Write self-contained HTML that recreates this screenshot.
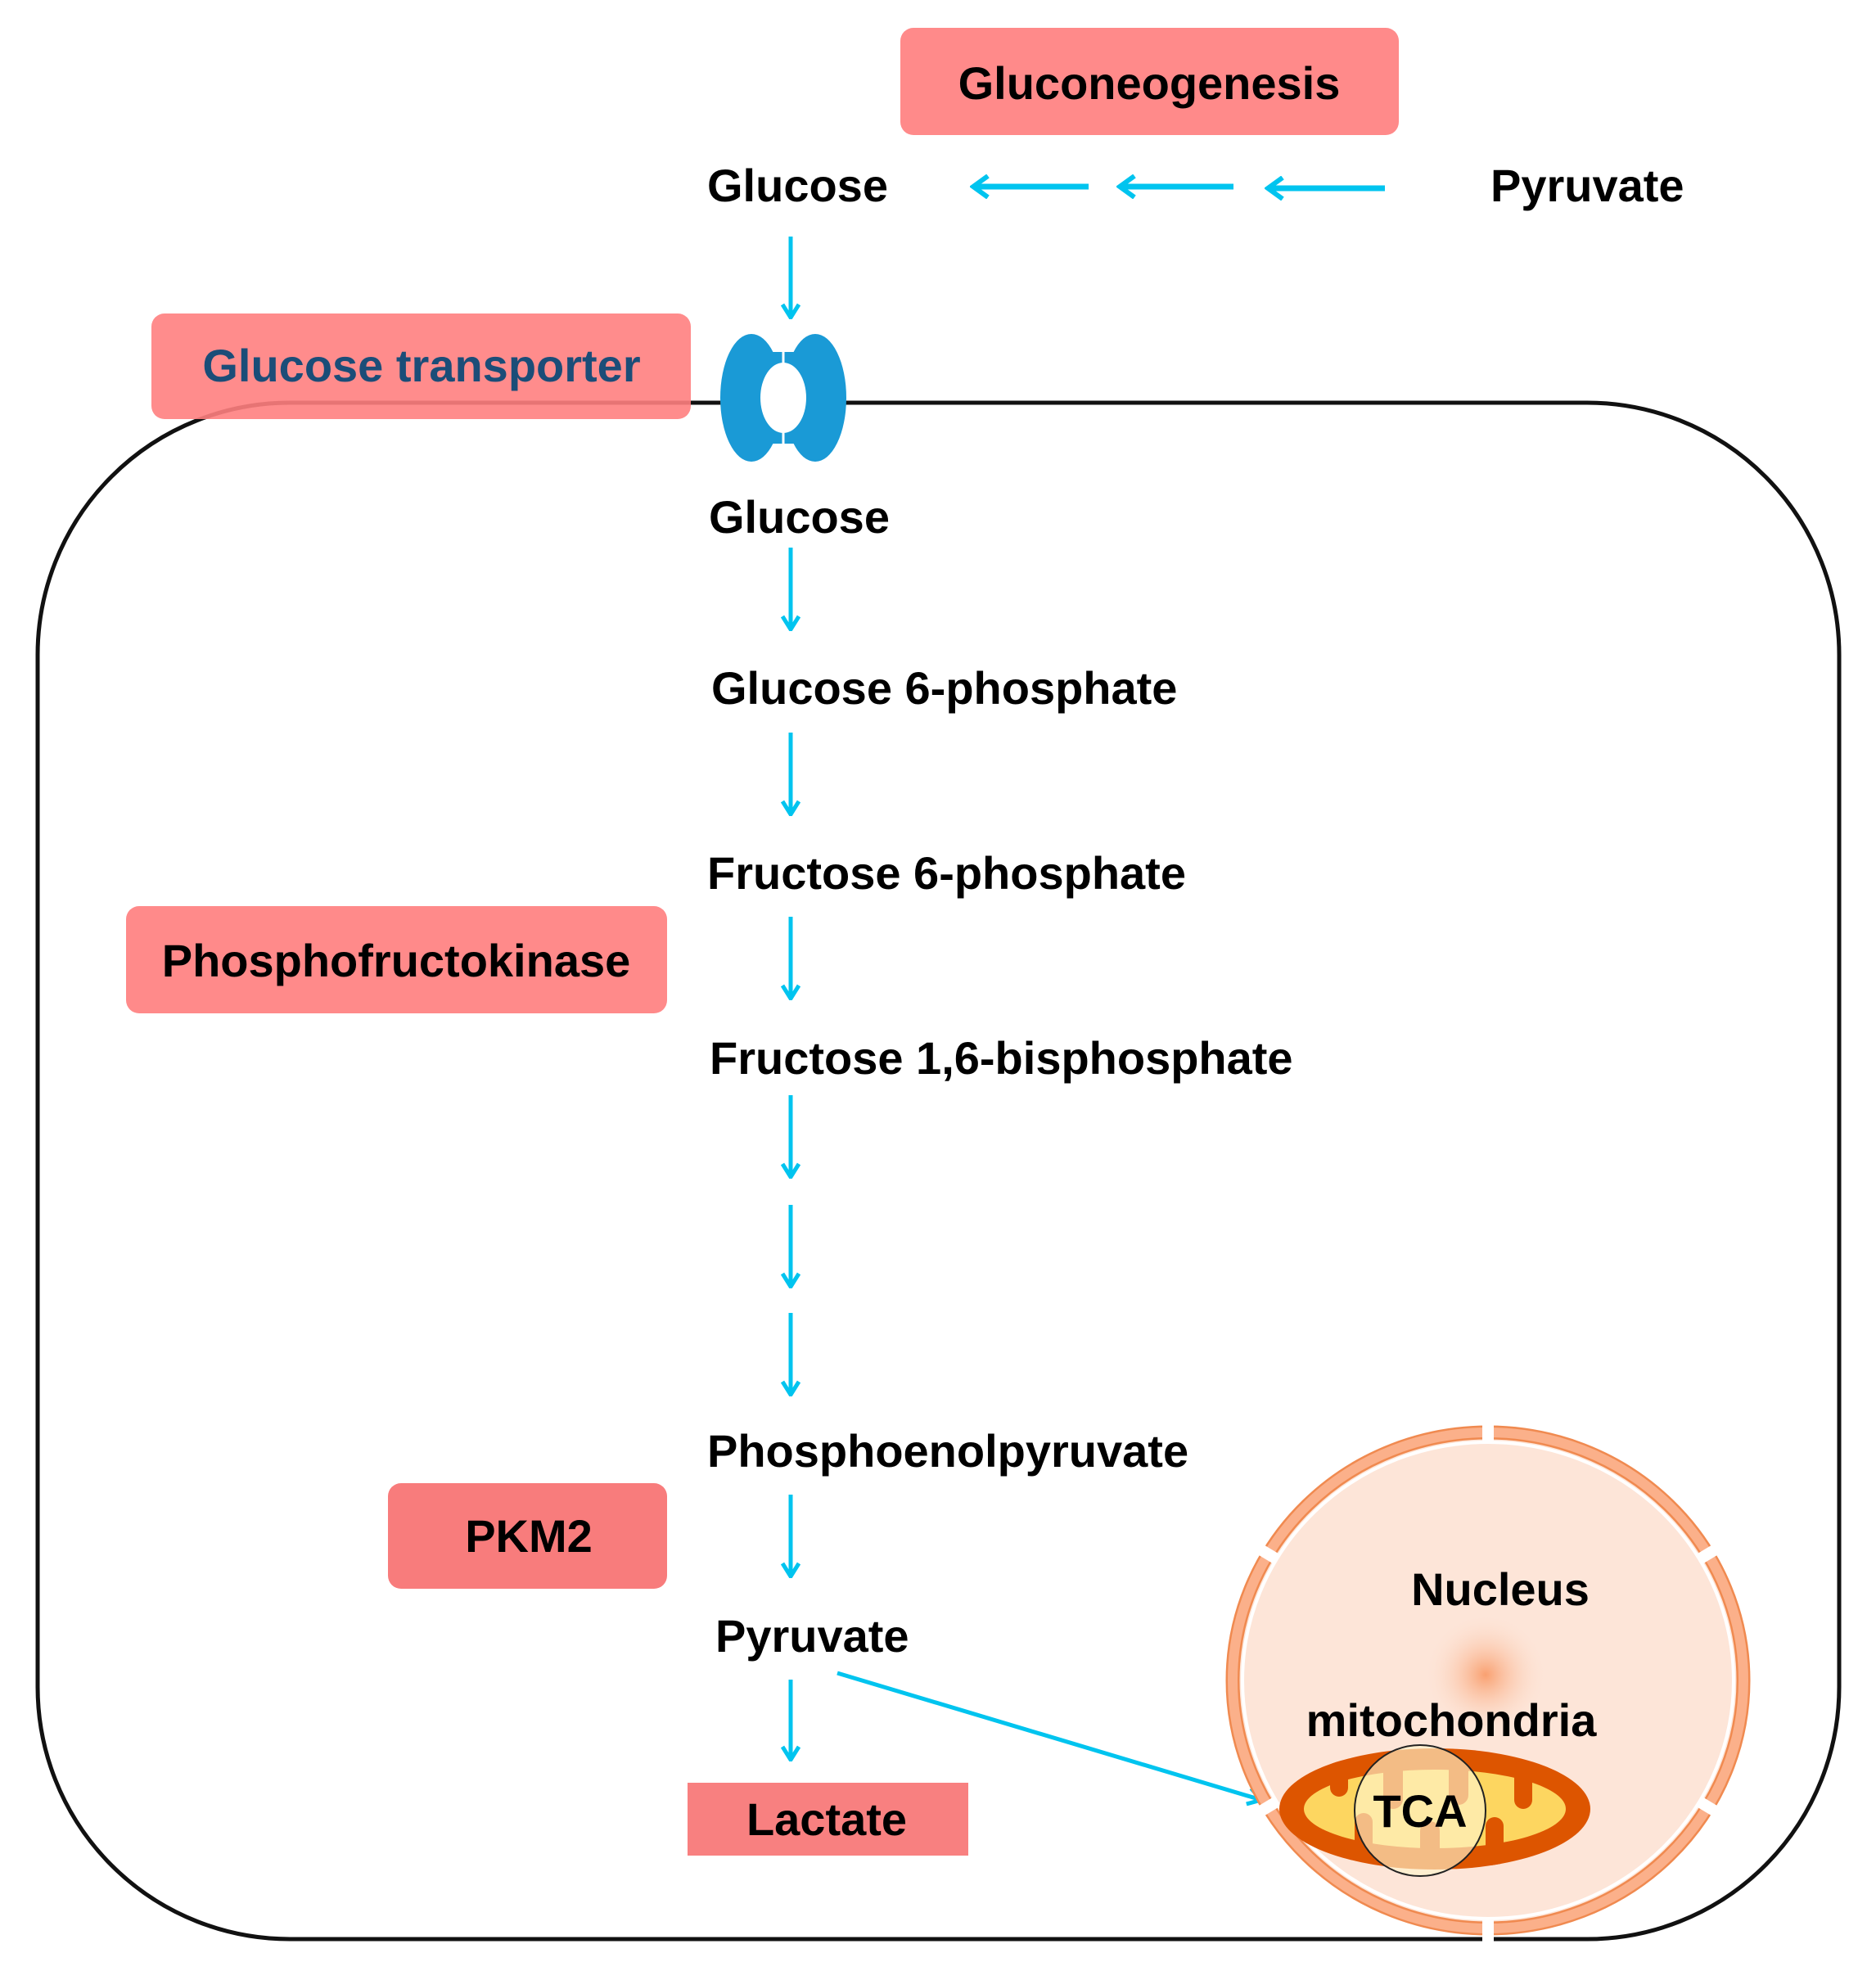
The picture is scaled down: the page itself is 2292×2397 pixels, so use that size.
<!DOCTYPE html>
<html><head><meta charset="utf-8"><style>html,body{margin:0;padding:0;background:#fff}svg{display:block}</style></head><body>
<svg width="2292" height="2397" viewBox="0 0 2292 2397" xmlns="http://www.w3.org/2000/svg" font-family="'Liberation Sans', sans-serif" font-weight="bold" font-size="56">
<defs>
<marker id="ah" markerWidth="20" markerHeight="24" refX="18" refY="12" orient="auto" markerUnits="userSpaceOnUse"><path d="M2,2 L18,12 L2,22" fill="none" stroke="#00c4ef" stroke-width="5"/></marker>
<marker id="ah2" markerWidth="24" markerHeight="30" refX="20" refY="15" orient="auto" markerUnits="userSpaceOnUse"><path d="M2,2 L20,15 L2,28" fill="none" stroke="#00c4ef" stroke-width="6"/></marker>
<radialGradient id="glow"><stop offset="0" stop-color="#f9a070"/><stop offset="1" stop-color="#fde5d8" stop-opacity="0"/></radialGradient>
<clipPath id="mc"><ellipse cx="1753" cy="2210" rx="190" ry="74"/></clipPath>
</defs>
<rect x="46" y="492" width="2201" height="1877" rx="308" ry="308" fill="none" stroke="#111" stroke-width="5"/>
<rect x="1100" y="34" width="609" height="131" rx="16" fill="#ff8a8a"/>
<text x="1404" y="121" text-anchor="middle">Gluconeogenesis</text>
<rect x="185" y="383" width="659" height="129" rx="16" fill="#ff8080" fill-opacity="0.9"/>
<text x="515" y="466" text-anchor="middle" fill="#1b4d78">Glucose transporter</text>
<rect x="154" y="1107" width="661" height="131" rx="16" fill="#ff8a8a"/>
<text x="484" y="1193" text-anchor="middle">Phosphofructokinase</text>
<rect x="474" y="1812" width="341" height="129" rx="16" fill="#f87c7c"/>
<text x="646" y="1896" text-anchor="middle">PKM2</text>
<rect x="840" y="2178" width="343" height="89" fill="#f88080"/>
<text x="1010" y="2242" text-anchor="middle">Lactate</text>
<ellipse cx="918" cy="486" rx="38" ry="78" fill="#1a9ad6"/>
<ellipse cx="996" cy="486" rx="38" ry="78" fill="#1a9ad6"/>
<rect x="918" y="430" width="78" height="112" fill="#1a9ad6"/>
<ellipse cx="957" cy="486" rx="28" ry="43" fill="#fff"/>
<line x1="957" y1="405" x2="957" y2="446" stroke="#fff" stroke-width="3"/>
<line x1="957" y1="526" x2="957" y2="568" stroke="#fff" stroke-width="3"/>
<text x="864" y="246">Glucose</text>
<text x="1821" y="246">Pyruvate</text>
<text x="866" y="651">Glucose</text>
<text x="869" y="860">Glucose 6-phosphate</text>
<text x="864" y="1086">Fructose 6-phosphate</text>
<text x="867" y="1312">Fructose 1,6-bisphosphate</text>
<text x="864" y="1792">Phosphoenolpyruvate</text>
<text x="874" y="2018">Pyruvate</text>
<g stroke="#00c4ef" stroke-width="7" fill="none" marker-end="url(#ah2)">
<line x1="1330" y1="228" x2="1189" y2="228"/>
<line x1="1507" y1="228" x2="1368" y2="228"/>
<line x1="1692" y1="230" x2="1549" y2="230"/>
</g>
<g stroke="#00c4ef" stroke-width="5" fill="none" marker-end="url(#ah)">
<line x1="966" y1="289" x2="966" y2="388"/>
<line x1="966" y1="669" x2="966" y2="769"/>
<line x1="966" y1="895" x2="966" y2="995"/>
<line x1="966" y1="1120" x2="966" y2="1220"/>
<line x1="966" y1="1338" x2="966" y2="1438"/>
<line x1="966" y1="1472" x2="966" y2="1572"/>
<line x1="966" y1="1604" x2="966" y2="1704"/>
<line x1="966" y1="1826" x2="966" y2="1926"/>
<line x1="966" y1="2052" x2="966" y2="2150"/>
<line x1="1023" y1="2044" x2="1541" y2="2199"/>
</g>
<ellipse cx="1818" cy="2053" rx="320" ry="311" fill="#fde5d8"/>
<ellipse cx="1818" cy="2053" rx="312" ry="303" fill="none" stroke="#f08a50" stroke-width="17"/>
<ellipse cx="1818" cy="2053" rx="312" ry="303" fill="none" stroke="#fbb08a" stroke-width="12"/>
<ellipse cx="1818" cy="2053" rx="300" ry="291" fill="none" stroke="#fff" stroke-width="4"/>
<g stroke="#fff" stroke-width="14">
<line x1="1818" y1="1730" x2="1818" y2="1760"/>
<line x1="1818" y1="2346" x2="1818" y2="2376"/>
<line x1="1535" y1="1890" x2="1560" y2="1905"/>
<line x1="2101" y1="1890" x2="2076" y2="1905"/>
<line x1="1535" y1="2216" x2="1560" y2="2201"/>
<line x1="2101" y1="2216" x2="2076" y2="2201"/>
</g>
<circle cx="1815" cy="2046" r="75" fill="url(#glow)"/>
<text x="1833" y="1961" text-anchor="middle">Nucleus</text>
<text x="1773" y="2121" text-anchor="middle">mitochondria</text>
<ellipse cx="1753" cy="2210" rx="190" ry="74" fill="#dd5500"/>
<ellipse cx="1753" cy="2210" rx="160" ry="48" fill="#fdd660"/>
<g clip-path="url(#mc)" fill="#dd5500">
<rect x="1625" y="2150" width="22" height="45" rx="11"/>
<rect x="1690" y="2150" width="24" height="60" rx="12"/>
<rect x="1770" y="2150" width="24" height="55" rx="12"/>
<rect x="1850" y="2150" width="22" height="60" rx="11"/>
<rect x="1655" y="2215" width="22" height="60" rx="11"/>
<rect x="1735" y="2225" width="24" height="55" rx="12"/>
<rect x="1815" y="2220" width="22" height="60" rx="11"/>
</g>
<circle cx="1735" cy="2212" r="80" fill="#fff4cc" fill-opacity="0.65" stroke="#222" stroke-width="2"/>
<text x="1735" y="2232" text-anchor="middle">TCA</text>
</svg>
</body></html>
